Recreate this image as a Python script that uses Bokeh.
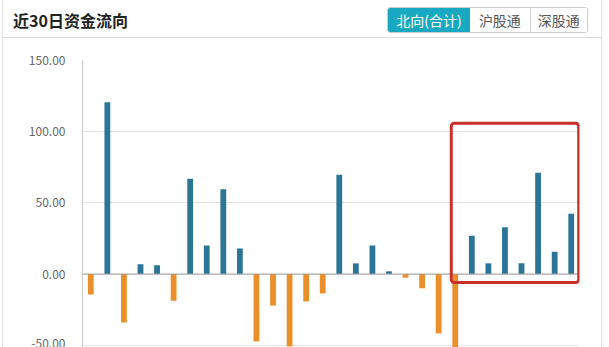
from bokeh.plotting import figure
from bokeh.layouts import column
from bokeh.models import (ColumnDataSource, FixedTicker, NumeralTickFormatter,
                          Span, BoxAnnotation, Range1d, Div)
from bokeh.embed import file_html
from bokeh.resources import INLINE

# ---- data ----
title_text = "近30日资金流向"
tabs = ["北向(合计)", "沪股通", "深股通"]
days = list(range(1, 31))
flows = [-14.3, 120.6, -34.0, 6.8, 6.1, -18.7, 67.0, 20.1, 59.5, 18.0,
         -47.3, -22.2, -50.8, -19.2, -13.6, 69.8, 7.5, 20.1, 1.9, -2.6,
         -10.0, -41.7, -53.0, 26.9, 7.5, 32.8, 7.5, 71.2, 15.7, 42.4]
y_ticks = [-50, 0, 50, 100, 150]
highlight_days = (23, 30)

# ---- style / layout ----
FONT = "Noto Sans CJK SC"
BLUE = "#2b7597"
ORANGE = "#ea8f2a"
TEAL = "#19a8c2"
PANEL_LINE = "#e6e6e6"
W, HEAD_H, H = 609, 38, 347

# ---- header (HTML) ----
tab_w = [83, 60, 58]
tab_html = ""
for i, t in enumerate(tabs):
    active = i == 0
    tab_html += (
        f'<div style="box-sizing:border-box;width:{tab_w[i]}px;height:100%;'
        f'display:flex;align-items:center;justify-content:center;white-space:nowrap;'
        f'font-size:14px;color:{"#ffffff" if active else "#555555"};'
        f'background:{TEAL if active else "#ffffff"};'
        f'{"border-left:1px solid #d0d0d0;" if i > 1 else ""}">{t}</div>'
    )
header_html = (
    f'<div style="position:relative;width:{W}px;height:{HEAD_H}px;'
    f'font-family:\'{FONT}\';">'
    f'<div style="position:absolute;left:2px;top:0;width:600px;height:38px;'
    f'box-sizing:border-box;border-bottom:1px solid #d9d9d9;"></div>'
    f'<div style="position:absolute;left:13px;top:7px;height:26px;line-height:26px;'
    f'font-size:16px;font-weight:bold;color:#222222;white-space:nowrap;">{title_text}</div>'
    f'<div style="position:absolute;left:387px;top:7px;width:201px;height:26px;'
    f'box-sizing:border-box;border:1px solid #cccccc;border-radius:3px;overflow:hidden;'
    f'display:flex;flex-direction:row;">{tab_html}</div>'
    f'</div>'
)
header = Div(text=header_html, width=W, height=HEAD_H, margin=0)

# ---- chart ----
p = figure(width=W, height=H - HEAD_H, x_range=Range1d(0.5, 30.5),
           y_range=Range1d(-51.6, 150), toolbar_location=None,
           output_backend="svg", min_border_left=82, min_border_right=30,
           min_border_top=22, min_border_bottom=0)
p.border_fill_color = None
p.background_fill_color = "#ffffff"
p.outline_line_color = None
p.xaxis.visible = False
p.xgrid.visible = False
p.ygrid.grid_line_color = "#e3e3e3"
p.ygrid.ticker = FixedTicker(ticks=y_ticks)
p.yaxis.ticker = FixedTicker(ticks=y_ticks)
p.yaxis.formatter = NumeralTickFormatter(format="0.00")
p.yaxis.axis_line_color = "#cccccc"
p.yaxis.major_tick_line_color = None
p.yaxis.minor_tick_line_color = None
p.yaxis.major_label_standoff = 11
p.yaxis.major_label_text_font = FONT
p.yaxis.major_label_text_font_size = "12px"
p.yaxis.major_label_text_color = "#666666"

src = ColumnDataSource(dict(x=days, top=flows,
                            color=[BLUE if v >= 0 else ORANGE for v in flows]))
p.vbar(x="x", top="top", bottom=0, width=0.35, source=src,
       fill_color="color", line_color=None)
p.add_layout(Span(location=0, dimension="width", line_color="#a0a0a0", line_width=1))

p.add_layout(BoxAnnotation(left=highlight_days[0] - 0.24, right=highlight_days[1] + 0.45,
                           bottom=-6, top=106, fill_color=None, fill_alpha=0,
                           line_color="#c9302c", line_alpha=1, line_width=3,
                           border_radius=3))

panel_bg = (f"linear-gradient(to right, #ffffff 2px, {PANEL_LINE} 2px, {PANEL_LINE} 3px, "
            f"#ffffff 3px, #ffffff 601px, {PANEL_LINE} 601px, {PANEL_LINE} 602px, "
            f"#ffffff 602px)")
layout = column(header, p, spacing=0, styles={"background": panel_bg})
open("out.html", "w").write(file_html(layout, INLINE))
